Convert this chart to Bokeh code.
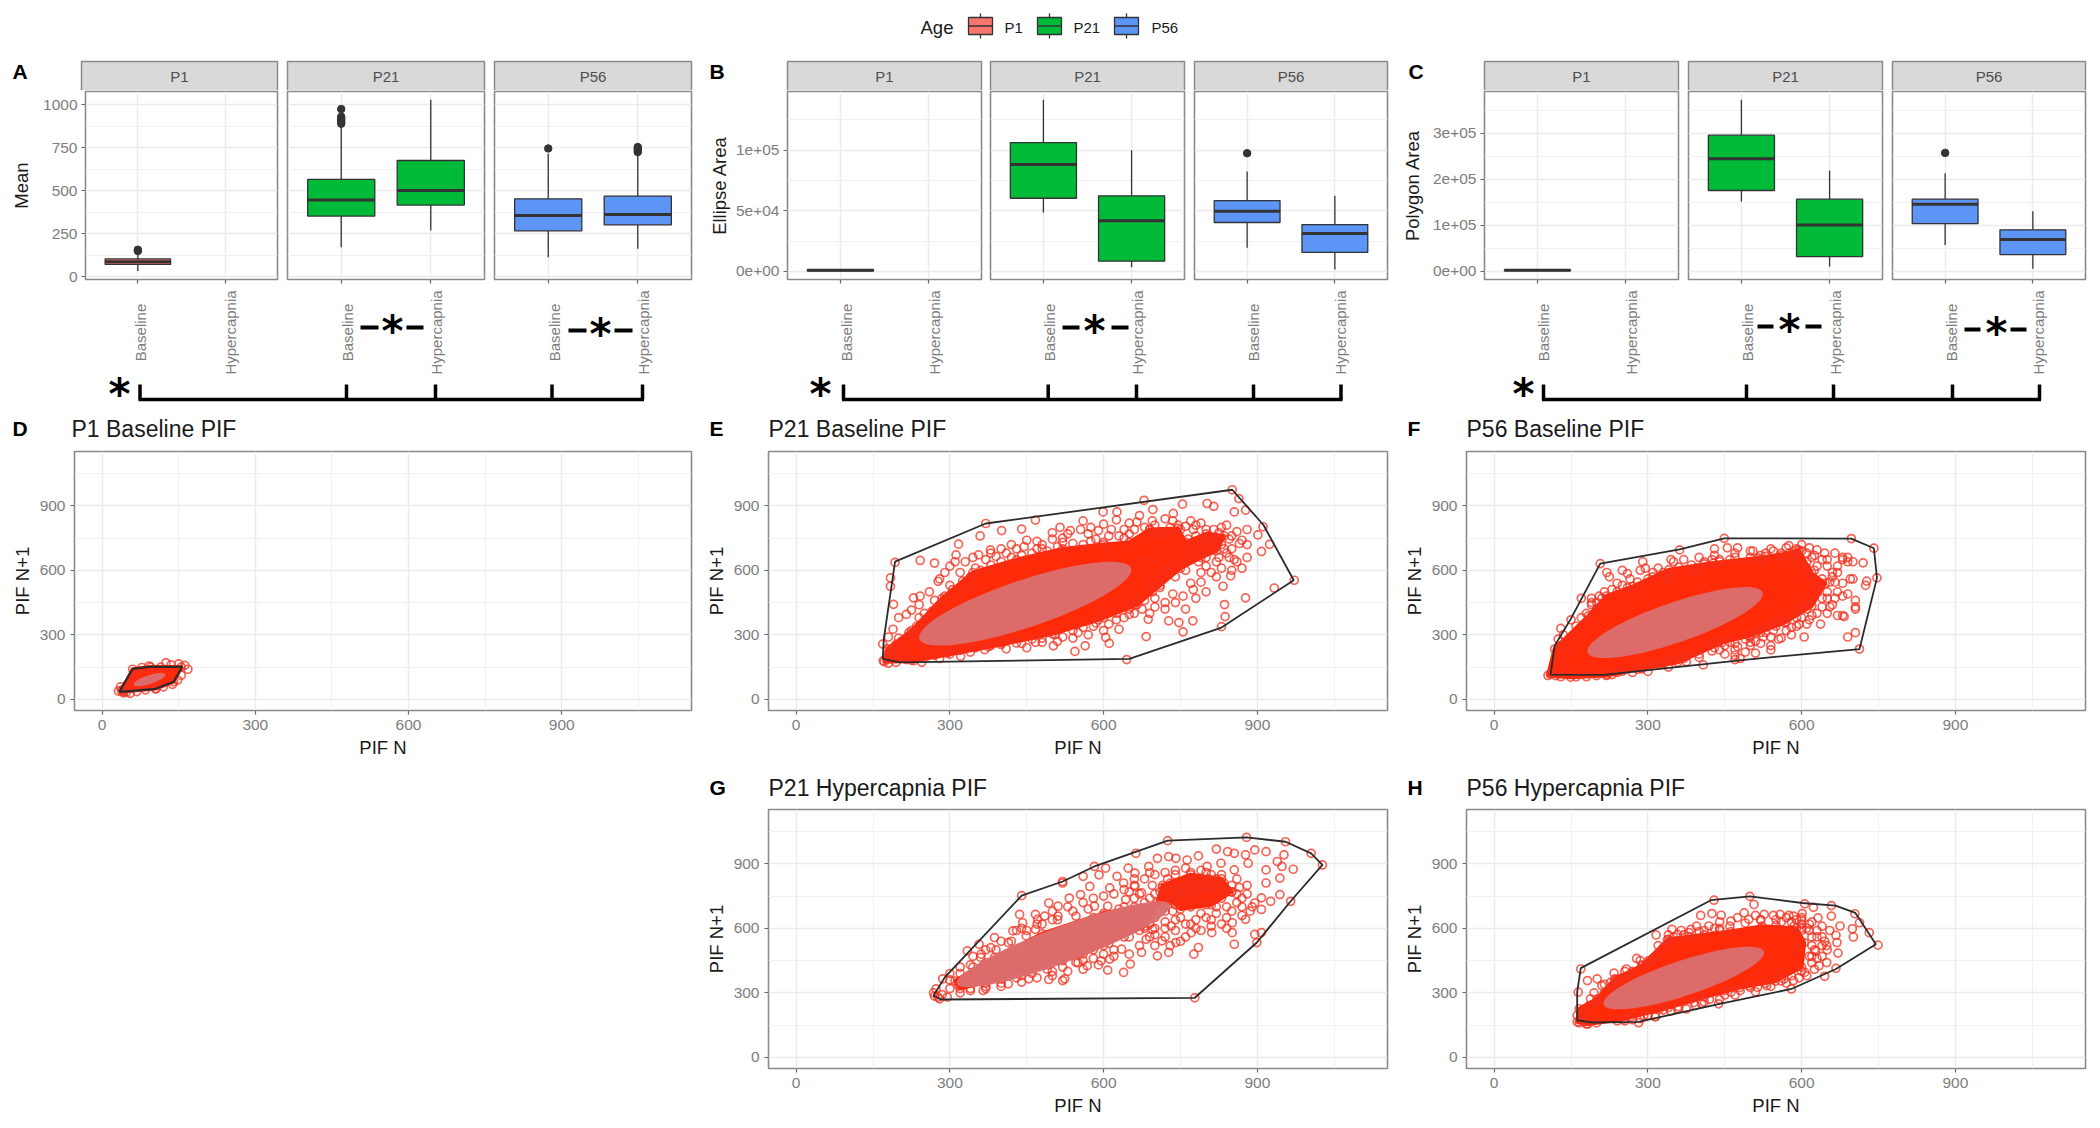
import numpy as np
from bokeh.plotting import figure
from bokeh.layouts import column, row
from bokeh.models import Range1d, FixedTicker, Grid, Label, Spacer
from bokeh.embed import file_html
from bokeh.resources import INLINE

FONT = "Liberation Sans"
AGES = ["P1", "P21", "P56"]
CONDITIONS = ["Baseline", "Hypercapnia"]
AGE_COLORS = {"P1": "#F8766D", "P21": "#00BA38", "P56": "#5C95F5"}

# box stats: (q1, median, q3, whisker low, whisker high, outliers) per age, per condition
MEAN_STATS = {
    "P1": [(72, 88, 104, 33, 150, [157, 150])],
    "P21": [(353, 446, 566, 172, 885, [975, 930, 920, 910, 900, 890]),
            (417, 502, 676, 269, 1029, [])],
    "P56": [(267, 357, 453, 114, 715, [746]),
            (302, 362, 469, 163, 705, [754, 745, 735, 725])],
}
ELLIPSE_STATS = {
    "P1": [(500, 1000, 1500, 300, 2000, [])],
    "P21": [(60400, 88200, 106300, 48600, 141500, []),
            (8500, 41800, 62400, 3600, 100000, [])],
    "P56": [(40400, 49700, 58500, 19500, 82400, [97500]),
            (15700, 31300, 38700, 1600, 62400, [])],
}
POLYGON_STATS = {
    "P1": [(1500, 2200, 3000, 1000, 4000, [])],
    "P21": [(175400, 244200, 295600, 151400, 372500, []),
            (31900, 100700, 156500, 10100, 218800, [])],
    "P56": [(103600, 145600, 156500, 57200, 213000, [257200]),
            (36200, 68800, 89900, 5100, 130400, [])],
}

# return-map clouds: individually readable points, dense core outline, hull, ellipse
D_POINTS = [(32,38),(36,58),(42,30),(50,72),(48,34),(58,90),(66,110),(72,130),(78,148),(92,155),(115,150),(125,170),(135,160),(150,165),(162,158),(168,140),(155,112),(148,90),(138,70),(120,58),(105,48),(85,44),(68,36),(55,28),(45,48),(40,45)]
D_CORE = [(38,38),(60,140),(95,150),(155,150),(140,82),(105,50),(42,36)]
D_HULL = [(34,36),(60,142),(91,151),(157,151),(140,82),(105,49),(42,36)]
D_ELLIPSE = (93, 92, 30, 27, -8, 15)

E_POINTS = [(851,975),(679,926),(754,908),(802,911),(815,898),(599,872),(626,872),(696,883),(736,865),(855,872),(864,934),(877,880),(911,803),(370,818),(467,834),(440,792),(401,785),(359,760),(317,722),(193,637),(242,646),(270,634),(184,565),(184,526),(190,442),(200,380),(229,472),(242,480),(277,549),(312,672),(356,672),(379,695),(972,554),(933,518),(924,721),(908,688),(901,765),(877,472),(848,575),(833,526),(836,441),(837,385),(830,338),(774,365),(755,314),(747,357),(727,365),(683,292),(687,372),(630,326),(611,260),(604,288),(564,249),(544,223),(645,185),(502,249),(467,265),(440,260),(368,231),(321,200),(169,257),(189,326),
    (500,775),(515,800),(535,785),(560,830),(575,800),(600,815),(625,835),(650,820),(670,855),(695,830),(720,840),(745,810),(770,830),(790,820),(815,790),(840,810),(860,780),(880,790),(870,740),(850,700),(880,720),(860,640),(880,660),(820,640),(800,620),(790,590),(820,570),(770,540),(800,500),(780,470),(760,420),(740,450),(720,420),(700,470),(690,400),(660,400),(640,380),(610,350),(580,340),(550,310),(520,290),
    (300,620),(330,640),(345,660),(400,700),(420,720),(450,740),(480,720),(520,750),(570,770),(280,560),(260,500),(240,440),(225,415),(215,395),(250,400),(270,460),(300,530),(320,590),(380,680),(470,700),
    (190,200),(210,230),(200,285),(180,290),(240,260),(260,220),(300,240),(340,220),(380,250),(410,235),(170,180),(180,168),(195,172),(245,172),(280,190),(230,300),
    (560,720),(585,745),(610,760),(640,750),(660,790),(680,800),(700,810),(730,800),(750,790),(775,790),(800,790),(825,775),(845,745),(830,720),(815,700),(840,680),(800,660),(785,640),(760,600),(740,570),(730,590),(710,520),(695,500),(680,460),(660,440),(650,420),(625,400),(600,380),(585,355),(560,335),(540,320),(505,300),(480,285),(460,280),(430,262),(400,262),(375,245),(350,240),(320,228),(295,215),(270,205),(250,190),(225,182),(215,185),(195,190),(185,200),(185,225),(195,255),(215,280),(220,310),(235,340),(250,360),(265,410),(280,440),(290,480),(305,510),(325,550),(340,570),(360,600),(380,625),(400,640),(420,660),(440,670),(460,680),(490,690),(510,710),(540,725),(740,760),(765,745),(790,735),(760,700),(730,690),(700,660),(680,640),(660,600),(640,600),(620,630),
    (430,700),(470,735),(500,745),(530,770),(555,790),(590,785),(615,790),(640,790),(665,825),(690,790),(710,780),(735,830),(760,805),(780,810),(805,760),(830,800),(850,760),(865,725),(845,660),(830,610),(810,590),(790,545),(775,510),(755,480),(735,490),(720,450),(700,430),(675,420),(650,395),(625,370),(600,320),(570,300),(540,285),(510,270),(480,265),(450,240),(420,290),(395,300),(370,270),(340,250),(300,280),(275,250),(255,330),(240,380),(270,350),(295,400),(320,460),(335,520),(290,590),(310,640),(350,610),(370,650),(390,665),(410,680),(445,710),(480,700),(520,730),(575,735),(600,730),(630,760),(650,770),(690,760),(715,770),(780,760),(800,745),(820,745),(815,730),(790,710),(770,680),(745,640),(720,600),(700,560),(690,530),(660,480),(640,450),(600,410),(760,650),(730,620),(835,700),(855,650),(870,610),(850,600),(825,660)]
E_CORE = [(172,175),(178,235),(225,320),(285,470),(345,590),(430,650),(520,700),(600,720),(650,730),(690,790),(745,795),(760,730),(800,770),(835,760),(820,690),(790,660),(750,610),(710,530),(665,440),(590,370),(500,305),(400,255),(300,210),(230,180)]
E_HULL = [(169,188),(171,280),(193,641),(370,818),(851,975),(912,811),(971,554),(830,334),(650,188),(202,172)]
E_ELLIPSE = (447, 445, 201, 180, -50, 75)

F_POINTS = [(449,749),(430,700),(455,705),(475,705),(505,690),(530,680),(545,690),(570,705),(590,700),(600,720),(615,705),(630,695),(645,680),(665,680),(680,660),(690,660),(697,748),(720,635),(741,703),(747,565),(727,550),(725,530),(695,560),(700,640),(690,640),(680,650),(700,560),(670,590),(665,545),(650,500),(680,480),(690,490),(705,460),(705,430),(705,420),(680,390),(670,390),(683,385),(690,290),(705,310),(713,234),(637,350),(620,390),(600,380),(605,290),(580,335),(560,285),(555,280),(530,310),(520,260),(500,250),(480,190),(470,205),(450,210),(408,160),(350,190),(310,175),(220,115),(120,110),(130,105),(110,118),
    (207,631),(220,590),(225,570),(250,600),(260,585),(290,640),(295,610),(310,590),(340,560),(345,650),(362,695),(390,600),(395,610),(410,630),(425,650),(440,640),(170,470),(190,440),(215,500),(230,510),(250,530),(270,500),(300,560),(345,580),(150,370),(135,300),(125,280),(130,330),(160,340),(180,400),(200,450),(235,430),(130,250),
    (620,540),(630,500),(640,470),(610,420),(590,380),(570,360),(550,340),(520,310),(500,290),(470,260),(430,240),(400,210),(370,190),(330,165),(290,150),(250,130),(180,105),(660,590),(650,620),(640,650),(610,680),(590,670),(560,670),(530,665),(500,660),(460,650),
    (140,220),(160,300),(175,340),(200,420),(210,470),(240,500),(260,520),(280,545),(310,570),(330,590),(360,615),(385,625),(410,640),(440,650),(470,660),(520,670),(560,680),(585,690),(610,640),(625,600),(640,560),(655,545),(630,520),(610,460),(590,420),(570,390),(550,360),(530,335),(510,310),(490,280),(460,265),(440,270),(420,250),(395,225),(375,200),(345,180),(320,160),(280,140),(240,125),(200,110),(160,105),(590,340),(540,290),(510,270),(470,230),(440,230),(540,250),(490,220),(600,440),(640,430),(660,440),(650,400),(665,470),
    (190,450),(205,480),(240,540),(265,560),(285,600),(320,610),(350,640),(370,650),(400,660),(430,670),(470,680),(500,690),(540,700),(575,715),(600,690),(625,670),(650,650),(670,620),(660,570),(680,540),(670,500),(650,470),(655,430),(630,400),(615,370),(595,350),(570,320),(545,320),(525,290),(500,265),(475,245),(450,250),(425,225),(400,195),(375,175),(340,150),(300,130),(270,125),(230,115),(630,620),(610,610),(590,640),(620,660),(560,640),(520,650),(150,130),(130,170),(140,260),(170,380),(190,470),(610,350),(580,300),(540,230),(510,215),(470,185)]
F_CORE = [(105,111),(118,234),(184,388),(219,480),(271,526),(341,603),(428,634),(515,657),(576,680),(594,695),(620,585),(646,540),(620,435),(567,357),(497,295),(445,265),(358,172),(288,142),(219,111),(149,103)]
F_HULL = [(110,115),(118,249),(149,372),(207,631),(362,698),(449,749),(697,748),(741,703),(747,565),(713,234),(493,185),(214,114)]
F_ELLIPSE = (353, 357, 165, 154, -45, 60)

G_POINTS = [(725,1008),(879,1023),(955,1003),(1005,949),(1027,895),(965,726),(899,534),(778,277),(440,752),(520,818),(582,888),(663,949),
    (705,926),(727,934),(741,926),(763,918),(785,937),(820,969),(842,957),(855,949),(877,942),(895,965),(917,957),(952,942),(939,911),(970,875),(948,888),(917,872),(882,903),(855,872),(829,903),(802,888),(688,888),(661,857),(648,880),(626,842),(604,880),(591,849),(560,842),(520,811),
    (944,834),(917,811),(944,757),(926,726),(908,742),(895,718),(908,688),(886,680),(877,642),(851,626),(851,580),(855,526),(895,572),(908,580),(785,511),(776,480),
    (700,760),(715,790),(730,810),(745,770),(760,740),(775,800),(790,760),(805,830),(820,790),(835,810),(850,770),(830,740),(800,710),(770,700),(740,710),(720,680),(700,700),(680,720),(660,740),(650,770),(660,800),(680,830),(700,850),(740,850),(770,860),(800,860),(830,850),(860,830),(880,800),(870,740),(820,700),(790,670),(750,650),(720,630),(700,600),(690,560),(720,560),(740,590),(770,620),(810,640),(830,620),(850,680),
    (493,718),(511,703),(533,741),(555,757),(573,795),(612,788),(639,811),(661,795),(674,765),(643,734),(608,703),(582,703),(546,657),(511,657),(485,657),(467,665),(436,665),(442,626),(471,642),(467,595),(423,588),(449,565),(387,557),(357,526),(334,495),(361,480),(387,465),(414,534),
    (317,334),(286,365),(273,318),(277,280),(295,280),(365,311),(414,342),(454,365),(493,362),(520,357),(524,365),(546,442),(568,426),(595,449),(608,406),(639,395),(652,434),(612,457),(635,503),(674,488),(705,472),(727,488),(683,549),(714,542),(741,534),(696,595),(732,611),(771,580),(811,580),
    (270,285),(280,272),(285,292),(268,300),(300,320),(330,350),(345,420),(380,510),(430,590),(500,640),(580,650),(640,700),(560,450),(500,400),(440,380),(600,520),(650,560),
    (320,300),(340,320),(370,345),(400,365),(430,390),(460,410),(490,430),(520,450),(550,480),(580,500),(610,530),(640,560),(670,590),(690,620),(300,360),(320,390),(340,430),(360,465),(390,500),(420,540),(450,590),(480,620),(510,640),(540,680),(570,690),(600,660),(630,690),(660,700),(685,680),(640,640),(700,650),(735,680),(770,760),(755,780),(735,760),(790,790),(810,770),(780,730),(720,745),(695,800),(670,760),(840,780),(860,760),(870,700),(840,650),(810,610),(790,590),(760,560),(730,520),(700,520),(670,520),(650,480),(620,470),(590,430),(560,410),(530,400),(500,380),(470,370),(440,350),(400,330),(370,320),(340,310),
    (740,870),(760,880),(790,870),(720,860),(690,860),(660,830),(640,780),(620,760),(600,750),(580,740),(560,720),(530,700),(500,680),(470,620),(440,600),(400,540),(370,500),(345,470),(320,420),(300,390),(600,620),(625,640),(650,660),(670,650),(690,740),(710,770),(730,730),(750,760),(780,780),(800,800),(820,830),(850,800),(865,790),(880,760),(890,700),(860,720),(840,700),(820,670),(800,650),(780,640),(760,620),(740,640),(720,600),(700,570),(680,600),(660,620),(640,610),(620,500),(600,480),(580,460),(550,440),(520,420),(490,410),(460,390),(430,370),(400,345),(370,330),(745,790),(765,820),(785,830),(725,830),(810,850),(870,660),(840,600),(780,600),(750,540)]
G_CORE = [(320,320),(430,390),(560,480),(680,610),(705,720),(715,800),(770,850),(830,830),(850,770),(810,710),(750,690),(735,725),(600,670),(480,575),(370,440),(310,355)]
G_HULL = [(268,288),(290,372),(440,752),(520,818),(582,888),(725,1008),(879,1023),(955,1003),(1005,949),(1027,895),(965,726),(899,534),(778,277),(282,269)]
G_ELLIPSE = (522, 526, 205, 192, -38, 55)

H_POINTS = [(429,731),(499,749),(507,711),(606,714),(658,706),(623,698),(704,668),(713,626),(732,580),(749,522),(701,560),(699,598),(675,611),(667,568),(669,534),(671,485),(667,414),(645,377),(649,441),(634,426),(627,495),(649,520),(658,657),(632,649),(580,318),(438,249),(282,161),
    (403,660),(425,669),(443,661),(488,672),(527,665),(558,665),(584,657),(601,669),(347,595),(316,569),(338,546),(278,460),(169,411),(164,303),(182,357),(201,365),(234,392),(258,411),(301,449),(319,472),(358,572),(384,595),(419,611),(462,634),(497,642),
    (188,272),(210,334),(227,349),(245,365),(358,226),(393,241),(410,257),(462,303),(497,334),(514,326),(532,334),(566,365),(584,357),(606,395),(558,395),(292,195),(314,188),(323,226),(266,188),(166,161),(162,195),(175,165),
    (590,640),(600,600),(620,560),(640,520),(590,500),(620,630),(300,420),(270,380),(240,320),(380,560),(440,600),(520,640),(560,630),(350,260),(400,290),(450,310),
    (170,200),(185,240),(200,260),(215,300),(230,330),(250,370),(270,400),(290,430),(310,460),(330,510),(345,540),(370,570),(400,585),(430,600),(460,610),(490,625),(520,640),(550,640),(580,630),(600,620),(615,590),(620,520),(615,470),(620,440),(600,400),(580,380),(560,355),(530,345),(500,325),(480,310),(450,290),(420,270),(390,255),(360,235),(330,220),(300,195),(270,175),(240,170),(200,160),(180,155),(640,470),(650,500),(640,560),(630,590),(600,640),(570,650),
    (195,300),(215,340),(235,360),(255,400),(285,450),(320,520),(340,570),(365,590),(395,610),(440,630),(475,650),(510,660),(545,660),(575,660),(600,650),(615,620),(630,560),(625,500),(630,460),(625,410),(595,370),(570,345),(540,330),(510,305),(470,290),(440,270),(405,250),(375,225),(345,215),(315,190),(285,180),(255,170),(610,600),(585,610),(550,615),(440,590),(410,590),(380,580),(350,560),(600,590),(620,470),(610,380),(645,540),(655,590),(640,610)]
H_CORE = [(162,165),(166,226),(201,272),(236,365),(288,426),(340,549),(410,570),(462,585),(523,610),(590,600),(605,534),(600,420),(549,355),(479,325),(410,280),(340,232),(253,178),(183,155)]
H_HULL = [(162,172),(162,303),(169,415),(423,731),(499,749),(601,718),(666,706),(705,672),(745,526),(667,411),(580,318),(440,249),(282,165),(192,162)]
H_ELLIPSE = (370, 369, 152, 135, -38, 55)

PIF_TICKS = [0, 300, 600, 900]
PIF_MINOR = [150, 450, 750, 1050]

A_TICKS, A_MINOR = [0, 250, 500, 750, 1000], [125, 375, 625, 875]
B_TICKS, B_MINOR = [0, 50000, 100000], [25000, 75000, 125000]
C_TICKS, C_MINOR = [0, 100000, 200000, 300000], [50000, 150000, 250000, 350000]
A_RANGE, B_RANGE, C_RANGE = (-15.7, 1077), (-6600, 148400), (-18000, 390600)

# page geometry (px)
X0, X1 = 8, 2092
F_TOP, F_BOT, FRAME_BOT = 90, 285, 279
A_SPANS = [(8, 282, 81, 277), (282, 489, 287, 484), (489, 700, 494, 691)]
B_SPANS = [(700, 985, 787, 981), (985, 1189, 990, 1184), (1189, 1396, 1194, 1387)]
C_SPANS = [(1396, 1683, 1484, 1678), (1683, 1887, 1688, 1882), (1887, 2092, 1892, 2085)]


def base_axes(p):
    p.outline_line_color = "#8a8a8a"
    p.outline_line_width = 1.6
    p.background_fill_color = "white"
    p.border_fill_color = "white"
    p.xgrid.visible = False
    p.ygrid.visible = False


def style_axis(ax, standoff=4):
    ax.axis_line_color = None
    ax.major_tick_line_color = "#666666"
    ax.major_tick_line_width = 1.2
    ax.major_tick_in = 0
    ax.major_tick_out = 4
    ax.minor_tick_line_color = None
    ax.major_label_text_font = FONT
    ax.major_label_text_font_size = "15.5px"
    ax.major_label_text_color = "#7d7d7d"
    ax.major_label_standoff = standoff
    ax.axis_label_text_font = FONT
    ax.axis_label_text_font_size = "18.5px"
    ax.axis_label_text_font_style = "normal"
    ax.axis_label_text_color = "#1a1a1a"


def add_grid(p, dim, ticks, minor):
    g = Grid(dimension=dim, ticker=FixedTicker(ticks=ticks, minor_ticks=minor),
             grid_line_color="#ebebeb", grid_line_width=1.5,
             minor_grid_line_color="#f1f1f1", minor_grid_line_width=1)
    g.level = "underlay"
    p.add_layout(g)


def band(top, bottom):
    """A chrome strip whose data coordinates are page pixels."""
    p = figure(width=X1 - X0, height=bottom - top, x_range=Range1d(X0, X1), y_range=Range1d(bottom, top),
               output_backend="svg", toolbar_location=None, tools="", min_border=0,
               x_axis_location=None, y_axis_location=None)
    p.grid.visible = False
    p.outline_line_color = None
    return p


def put(p, x, y, s, size, color="#000000", align="left", base="middle", angle=0, style="normal", font=FONT):
    p.add_layout(Label(x=x, y=y, text=s, text_font=font, text_font_size=f"{size}px", text_color=color,
                       text_align=align, text_baseline=base, angle=angle, text_font_style=style))


def facet(age, stats, span, yrange, yticks, yminor, ylabel=None, overrides=None, lab_standoff=5):
    x0, x1, fl, fr = span
    has_y = ylabel is not None
    p = figure(width=x1 - x0, height=F_BOT - F_TOP, x_range=Range1d(0.4, 2.6), y_range=Range1d(*yrange),
               output_backend="svg", toolbar_location=None, tools="",
               min_border_left=fl - x0, min_border_right=x1 - fr, min_border_top=1,
               min_border_bottom=F_BOT - FRAME_BOT, y_axis_location="left" if has_y else None)
    base_axes(p)
    add_grid(p, 0, [1, 2], [])
    add_grid(p, 1, yticks, yminor)
    xa = p.xaxis[0]
    style_axis(xa, 0)
    xa.ticker = FixedTicker(ticks=[1, 2], minor_ticks=[])
    xa.major_label_overrides = {1: "", 2: ""}
    xa.major_label_text_font_size = "1px"
    if has_y:
        ax = p.yaxis[0]
        style_axis(ax)
        ax.ticker = FixedTicker(ticks=yticks, minor_ticks=yminor)
        ax.axis_label = ylabel
        ax.axis_label_standoff = lab_standoff
        if overrides:
            ax.major_label_overrides = overrides
    color = AGE_COLORS[age]
    for i, (q1, med, q3, lo, hi, out) in enumerate(stats):
        xc = i + 1
        p.segment([xc, xc], [lo, q3], [xc, xc], [q1, hi], line_color="#333333", line_width=1.3)
        p.quad(left=[xc - 0.375], right=[xc + 0.375], bottom=[q1], top=[q3], fill_color=color,
               line_color="#333333", line_width=1.3)
        p.segment([xc - 0.375], [med], [xc + 0.375], [med], line_color="#333333", line_width=3)
        if out:
            p.scatter([xc] * len(out), out, size=7.5, color="#333333")
    return p


def ell_vertices(spec):
    cx, cy, ux, uy, vx, vy = spec
    t = np.linspace(0, 2 * np.pi, 100)
    return cx + ux * np.cos(t) + vx * np.sin(t), cy + uy * np.cos(t) + vy * np.sin(t)


def cloud(points, core, hull, ell, span, rtop, rbot, fbot, hull_w=1.8):
    x0, x1, fl, fr = span
    p = figure(width=x1 - x0, height=rbot - rtop, x_range=Range1d(-54, 1154), y_range=Range1d(-52, 1153),
               output_backend="svg", toolbar_location=None, tools="",
               min_border_left=fl - x0, min_border_right=x1 - fr, min_border_top=1, min_border_bottom=rbot - fbot)
    base_axes(p)
    add_grid(p, 0, PIF_TICKS, PIF_MINOR)
    add_grid(p, 1, PIF_TICKS, PIF_MINOR)
    for ax, lab in ((p.xaxis[0], "PIF N"), (p.yaxis[0], "PIF N+1")):
        style_axis(ax, 5)
        ax.ticker = FixedTicker(ticks=PIF_TICKS, minor_ticks=PIF_MINOR)
        ax.axis_label = lab
        ax.axis_label_standoff = 4
    p.patch([c[0] for c in core], [c[1] for c in core], fill_color="#FF2A08", line_color="#FF2A08", line_width=4,
            line_join="round")
    all_pts = list(points) + list(core)
    p.scatter([q[0] for q in all_pts], [q[1] for q in all_pts], marker="circle", size=8, fill_color=None,
              line_color="#F0301F", line_width=1.7, line_alpha=0.75)
    p.patch([c[0] for c in hull], [c[1] for c in hull], fill_color=None, line_color="#2b2b2b", line_width=hull_w)
    ex, ey = ell_vertices(ell)
    p.patch(ex, ey, fill_color="#DB6E6E", fill_alpha=0.96, line_color=None)
    return p


# ------------------------------------------------------------------ top band: legend, letters, strips
top = band(8, 90)
LEG_POS = [(968, 992, 1004), (1037, 1061, 1073), (1114, 1138, 1151)]
for age, (a, b, tx) in zip(AGES, LEG_POS):
    top.segment([(a + b) / 2], [13], [(a + b) / 2], [38], line_color="#333333", line_width=1.3)
    top.quad(left=[a], right=[b], top=[17], bottom=[34], fill_color=AGE_COLORS[age], line_color="#333333", line_width=1.3)
    top.segment([a], [25.5], [b], [25.5], line_color="#333333", line_width=1.6)
    put(top, tx, 26.5, age, 15, "#1a1a1a")
put(top, 920, 27, "Age", 18.5, "#1a1a1a")
put(top, 12, 71, "A", 21, style="bold")
put(top, 709, 71, "B", 21, style="bold")
put(top, 1408, 71, "C", 21, style="bold")
for group in (A_SPANS, B_SPANS, C_SPANS):
    for age, (_, _, fl, fr) in zip(AGES, group):
        top.quad(left=[fl], right=[fr], top=[61], bottom=[90.5], fill_color="#d9d9d9", line_color="#8a8a8a", line_width=1.5)
        put(top, (fl + fr) / 2, 76, age, 15, "#4d4d4d", "center")

# ------------------------------------------------------------------ facets
fmt = lambda v: f"{v:.0e}"
a1 = facet("P1", MEAN_STATS["P1"], A_SPANS[0], A_RANGE, A_TICKS, A_MINOR, "Mean", None, 8)
a2 = facet("P21", MEAN_STATS["P21"], A_SPANS[1], A_RANGE, A_TICKS, A_MINOR)
a3 = facet("P56", MEAN_STATS["P56"], A_SPANS[2], A_RANGE, A_TICKS, A_MINOR)
b1 = facet("P1", ELLIPSE_STATS["P1"], B_SPANS[0], B_RANGE, B_TICKS, B_MINOR, "Ellipse Area", {v: fmt(v) for v in B_TICKS}, 3)
b2 = facet("P21", ELLIPSE_STATS["P21"], B_SPANS[1], B_RANGE, B_TICKS, B_MINOR)
b3 = facet("P56", ELLIPSE_STATS["P56"], B_SPANS[2], B_RANGE, B_TICKS, B_MINOR)
c1 = facet("P1", POLYGON_STATS["P1"], C_SPANS[0], C_RANGE, C_TICKS, C_MINOR, "Polygon Area", {v: fmt(v) for v in C_TICKS}, 7)
c2 = facet("P21", POLYGON_STATS["P21"], C_SPANS[1], C_RANGE, C_TICKS, C_MINOR)
c3 = facet("P56", POLYGON_STATS["P56"], C_SPANS[2], C_RANGE, C_TICKS, C_MINOR)

# ------------------------------------------------------------------ band under the facets, down to row 2's titles
mid = band(F_BOT, 450)
for group in (A_SPANS, B_SPANS, C_SPANS):
    for (_, _, fl, fr) in group:
        sx = (fr - fl) / 2.2
        for i, c in enumerate(CONDITIONS):
            put(mid, fl + (i + 0.6) * sx + 6, 332, c, 15, "#7d7d7d", "center", "middle", np.pi / 2)


def star(p, x, y):
    put(p, x, y + 4, "*", 42, "#000000", "center", "alphabetic", style="bold", font="DejaVu Sans")


DASH_STARS = [(392, 327, 360, 378, 406, 423), (600, 330, 568, 586, 614, 632), (1094, 327, 1062, 1079, 1111, 1128),
              (1789, 326, 1757, 1773, 1805, 1821), (1996, 329, 1964, 1980, 2010, 2026)]
for x, y, l1, r1, l2, r2 in DASH_STARS:
    mid.quad(left=[l1, l2], right=[r1, r2], top=[y - 2, y - 2], bottom=[y + 2, y + 2], fill_color="#000000", line_color=None)
    star(mid, x, y)

BRACKET_TICKS = [[139.5, 346, 435, 551.5, 642], [843, 1047.7, 1136, 1253, 1340.5], [1543, 1746, 1833, 1952, 2039]]
BRACKET_STARS = [119, 820, 1523]
for ticks, bx in zip(BRACKET_TICKS, BRACKET_STARS):
    mid.segment([ticks[0] - 1.5], [399], [ticks[-1] + 1.5], [399], line_color="#000000", line_width=3.5)
    mid.segment(ticks, [384] * 5, ticks, [399] * 5, line_color="#000000", line_width=3.5)
    star(mid, bx, 390)

# ------------------------------------------------------------------ scatter rows
D_SPAN, E_SPAN, F_SPAN = (8, 700, 71, 691), (700, 1396, 768, 1387), (1396, 2092, 1466, 2085)
put(mid, 71, 428, "P1 Baseline PIF", 23, "#1a1a1a")
put(mid, 768, 428, "P21 Baseline PIF", 23, "#1a1a1a")
put(mid, 1466, 428, "P56 Baseline PIF", 23, "#1a1a1a")
put(mid, 12, 428, "D", 21, style="bold")
put(mid, 709, 428, "E", 21, style="bold")
put(mid, 1407, 428, "F", 21, style="bold")
d = cloud(D_POINTS, D_CORE, D_HULL, D_ELLIPSE, D_SPAN, 450, 760, 712, 2.2)
e = cloud(E_POINTS, E_CORE, E_HULL, E_ELLIPSE, E_SPAN, 450, 760, 712)
f = cloud(F_POINTS, F_CORE, F_HULL, F_ELLIPSE, F_SPAN, 450, 760, 712)

band4 = band(760, 808)
put(band4, 768, 787, "P21 Hypercapnia PIF", 23, "#1a1a1a")
put(band4, 1466, 787, "P56 Hypercapnia PIF", 23, "#1a1a1a")
put(band4, 709, 787, "G", 21, style="bold")
put(band4, 1407, 787, "H", 21, style="bold")
g = cloud(G_POINTS, G_CORE, G_HULL, G_ELLIPSE, E_SPAN, 808, 1118, 1070)
h = cloud(H_POINTS, H_CORE, H_HULL, H_ELLIPSE, F_SPAN, 808, 1118, 1070)

content = column(
    top,
    row(a1, a2, a3, b1, b2, b3, c1, c2, c3),
    mid,
    row(d, e, f),
    band4,
    row(Spacer(width=692, height=310), g, h),
)
page = column(Spacer(width=10, height=8), row(Spacer(width=8, height=10), content))
open("out.html", "w").write(file_html(page, INLINE))
